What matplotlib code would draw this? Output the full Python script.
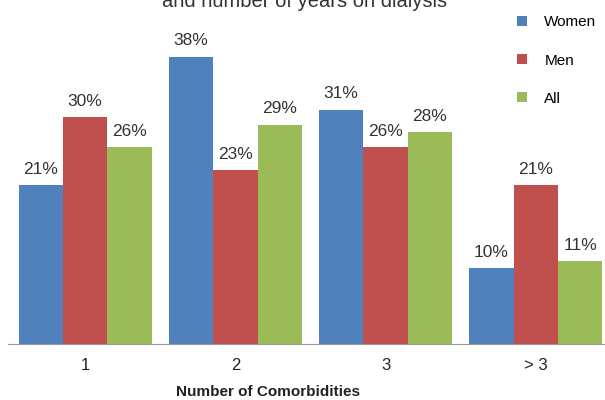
import numpy as np
import matplotlib.pyplot as plt

plt.rcParams['font.family'] = ['Liberation Sans', 'DejaVu Sans']

# Comorbidity distribution by sex
categories = ['1', '2', '3', '> 3']
women = [21, 38, 31, 10]
men = [30, 23, 26, 21]
all_pat = [26, 29, 28, 11]

series = [('Women', women, '#4F81BD'),
          ('Men', men, '#C0504D'),
          ('All', all_pat, '#9BBB59')]

fig = plt.figure(figsize=(6.05, 4), dpi=100)
ax = fig.add_axes([8 / 605, 56 / 400, 597 / 605, 344 / 400])

x = np.arange(len(categories))
w = 0.295
for i, (name, vals, col) in enumerate(series):
    pos = x + (i - 1) * w
    bars = ax.bar(pos, vals, width=w, color=col, label=name)
    for b, v in zip(bars, vals):
        ax.annotate(f'{v}%', (b.get_x() + b.get_width() / 2, v),
                    xytext=(0, 6), textcoords='offset points',
                    ha='center', va='bottom', fontsize=12.5, color='#333333')

ax.set_xlim(-0.513, 3.46)
ax.set_ylim(0, 45.5)
ax.set_xticks(x)
ax.set_xticklabels(categories, fontsize=12, color='#222222')
ax.tick_params(axis='x', length=0, pad=10)
ax.set_yticks([])
for s in ['top', 'right', 'left']:
    ax.spines[s].set_visible(False)
ax.spines['bottom'].set_color('#999999')

# axis title sits left of the axes centre in the original
fig.text(268 / 605, 1 - 396 / 400, 'Number of Comorbidities', ha='center',
         va='baseline', fontsize=11, fontweight='bold', color='#222222')

fig.text(305 / 605, 1 - 7 / 400, 'and number of years on dialysis',
         ha='center', va='baseline', fontsize=14.5, color='#333333')

leg = ax.legend(loc='upper left', bbox_to_anchor=(495 / 597, 0.995),
                frameon=False, fontsize=11, handlelength=0.65, handleheight=0.65,
                labelspacing=1.58, handletextpad=1.15)

fig.savefig('out.png', dpi=100)
